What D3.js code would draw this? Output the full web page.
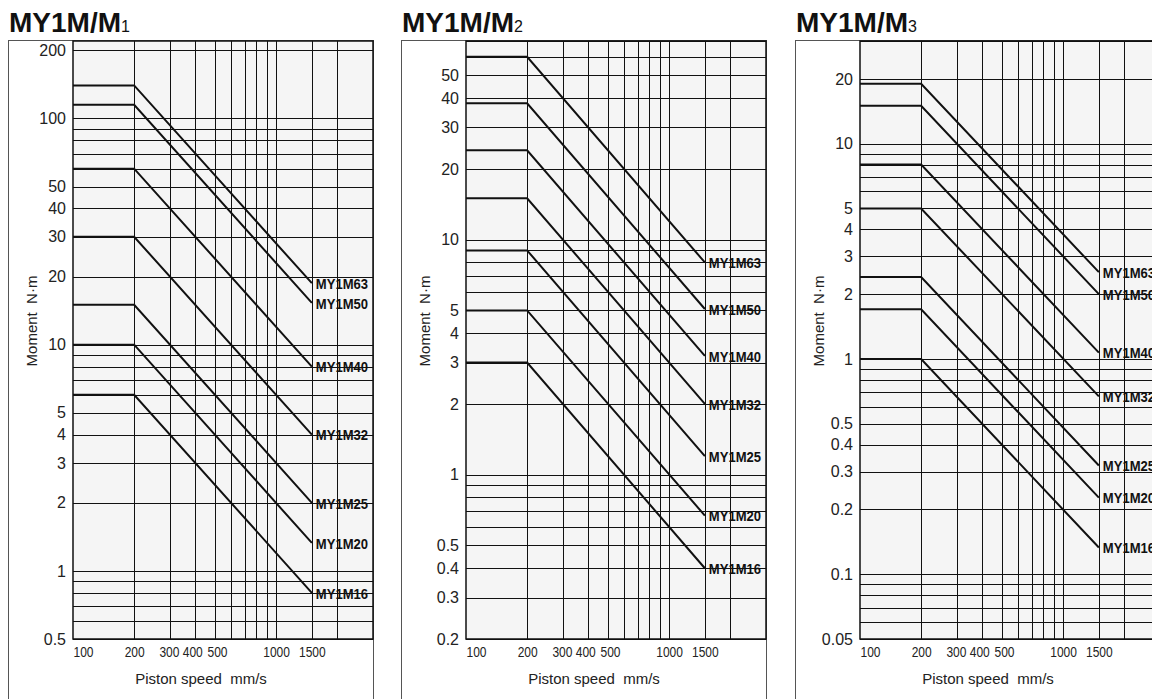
<!DOCTYPE html>
<html>
<head>
<meta charset="utf-8">
<script src="https://cdn.jsdelivr.net/npm/d3@7"></script>
<style>
  body { margin: 0; background: #fff; }
  text { font-family: "Liberation Sans", Arial, sans-serif; }
</style>
</head>
<body>
<svg id="chart" width="1152" height="699"></svg>
<script>
const models = ["MY1M63", "MY1M50", "MY1M40", "MY1M32", "MY1M25", "MY1M20", "MY1M16"];

// flat value (100-200 mm/s) and value at 1500 mm/s
const m1Flat = [140, 115, 60, 30, 15, 10, 6];
const m1End = [18.7, 15.3, 8, 4, 2, 1.33, 0.8];
const m2Flat = [60, 38, 24, 15, 9, 5, 3];
const m2End = [8, 5.07, 3.2, 2, 1.2, 0.67, 0.4];
const m3Flat = [19, 15, 8, 5, 2.4, 1.7, 1];
const m3End = [2.53, 2, 1.07, 0.67, 0.32, 0.227, 0.133];

const speedTicks = [100, 200, 300, 400, 500, 1000, 1500];
const speedGrid = [200, 300, 400, 500, 600, 700, 800, 900, 1000, 1500, 2000];
const speedDomain = [100, 3000];

const m1Ticks = [200, 100, 50, 40, 30, 20, 10, 5, 4, 3, 2, 1, 0.5];
const m2Ticks = [50, 40, 30, 20, 10, 5, 4, 3, 2, 1, 0.5, 0.4, 0.3, 0.2];
const m3Ticks = [20, 10, 5, 4, 3, 2, 1, 0.5, 0.4, 0.3, 0.2, 0.1, 0.05];

const panels = [
    { title: "MY1M/M", sub: "1", flat: m1Flat, end: m1End, ticks: m1Ticks, domain: [0.5, 220], left: 8 },
    { title: "MY1M/M", sub: "2", flat: m2Flat, end: m2End, ticks: m2Ticks, domain: [0.2, 70], left: 401 },
    { title: "MY1M/M", sub: "3", flat: m3Flat, end: m3End, ticks: m3Ticks, domain: [0.05, 30], left: 795 }
];

const svg = d3.select("#chart"),
    plotTop = 41,
    plotBottom = 639,
    plotW = 300;

function condense(sel, k) {
    sel.each(function () {
        const w = this.getComputedTextLength();
        this.setAttribute("textLength", w * k);
        this.setAttribute("lengthAdjust", "spacingAndGlyphs");
    });
}

panels.forEach(p => {
    const x0 = p.left + 65;
    const x = d3.scaleLog().domain(speedDomain).range([x0, x0 + plotW]);
    const y = d3.scaleLog().domain(p.domain).range([plotBottom, plotTop]);
    const g = svg.append("g");

    // title
    const t = g.append("text")
        .attr("x", p.left + 1)
        .attr("y", 32)
        .style("font-size", "28px")
        .style("font-weight", "bold")
        .attr("fill", "#111")
        .text(p.title);
    t.append("tspan")
        .style("font-size", "16px")
        .style("font-weight", "normal")
        .text(p.sub);

    // outer frame
    g.append("rect")
        .attr("x", p.left + 0.5)
        .attr("y", plotTop - 0.5)
        .attr("width", x0 + plotW - p.left)
        .attr("height", 720)
        .attr("fill", "#fff")
        .attr("stroke", "#555")
        .attr("stroke-width", 1);

    // plot background
    g.append("rect")
        .attr("x", x0)
        .attr("y", plotTop)
        .attr("width", plotW)
        .attr("height", plotBottom - plotTop)
        .attr("fill", "#f5f5f5");

    // grid
    g.selectAll(".hgrid")
        .data(y.ticks())
        .enter().append("line")
        .attr("x1", x0).attr("x2", x0 + plotW)
        .attr("y1", d => Math.round(y(d)) + 0.5)
        .attr("y2", d => Math.round(y(d)) + 0.5)
        .attr("stroke", "#111")
        .attr("stroke-width", 1);

    g.selectAll(".vgrid")
        .data(speedGrid)
        .enter().append("line")
        .attr("x1", d => Math.round(x(d)) + 0.5)
        .attr("x2", d => Math.round(x(d)) + 0.5)
        .attr("y1", plotTop).attr("y2", plotBottom)
        .attr("stroke", "#111")
        .attr("stroke-width", 1);

    // model lines
    const line = d3.line().x(d => x(d[0])).y(d => y(d[1]));
    models.forEach((m, i) => {
        const pts = [[100, p.flat[i]], [200, p.flat[i]], [1500, p.end[i]]];
        g.append("path")
            .attr("d", line(pts))
            .attr("fill", "none")
            .attr("stroke", "#111")
            .attr("stroke-width", 2);
    });

    // plot frame
    g.append("rect")
        .attr("x", x0)
        .attr("y", plotTop)
        .attr("width", plotW)
        .attr("height", plotBottom - plotTop)
        .attr("fill", "none")
        .attr("stroke", "#111")
        .attr("stroke-width", 1.5);

    // model labels
    const labels = g.selectAll(".lbl")
        .data(models)
        .enter().append("text")
        .attr("x", x(1500) + 4)
        .attr("y", (d, i) => y(p.end[i]))
        .attr("dy", "0.38em")
        .style("font-size", "15px")
        .style("font-weight", "bold")
        .attr("fill", "#111")
        .text(d => d);
    condense(labels, 0.87);

    // y axis labels
    const ya = g.append("g")
        .attr("transform", `translate(${x0},0)`)
        .call(d3.axisLeft(y).tickValues(p.ticks).tickFormat(d => d).tickSize(0).tickPadding(7));
    ya.select(".domain").remove();
    ya.selectAll("text")
        .style("font-size", "16px")
        .style("font-family", "'Liberation Sans', Arial, sans-serif")
        .attr("fill", "#222");

    // x axis labels
    const xa = g.append("g")
        .attr("transform", `translate(0,${plotBottom})`)
        .call(d3.axisBottom(x).tickValues(speedTicks).tickFormat(d => d).tickSize(0).tickPadding(7));
    xa.select(".domain").remove();
    xa.selectAll("text")
        .style("font-size", "15px")
        .style("font-family", "'Liberation Sans', Arial, sans-serif")
        .attr("fill", "#222");
    xa.selectAll("text").filter(d => d === 100)
        .attr("text-anchor", "start")
        .attr("x", 0);
    // the source squeezes 300/400/500 together
    xa.selectAll("text").filter(d => d === 300).attr("x", -1);
    xa.selectAll("text").filter(d => d === 400).attr("x", -3);
    xa.selectAll("text").filter(d => d === 500).attr("x", 2);
    condense(xa.selectAll("text"), 0.8);

    // axis titles
    g.append("text")
        .attr("transform", `translate(${p.left + 29},321) rotate(-90)`)
        .attr("text-anchor", "middle")
        .style("font-size", "15px")
        .style("white-space", "pre")
        .attr("fill", "#222")
        .text("Moment  N·m");

    g.append("text")
        .attr("x", p.left + 193)
        .attr("y", 684)
        .attr("text-anchor", "middle")
        .style("font-size", "15px")
        .style("white-space", "pre")
        .attr("fill", "#222")
        .text("Piston speed  mm/s");
});
</script>
</body>
</html>
